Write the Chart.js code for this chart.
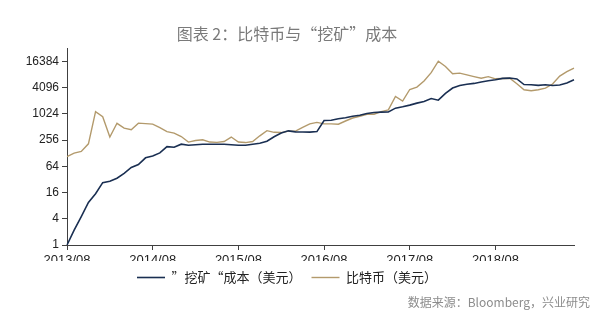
<!DOCTYPE html>
<html>
<head>
<meta charset="utf-8">
<script src="https://cdn.jsdelivr.net/npm/chart.js@4"></script>
<style>
  html, body { margin: 0; background: #fff; }
  #wrap { width: 600px; height: 320px; }
</style>
</head>
<body>
<div id="wrap"><canvas id="btcCostChart"></canvas></div>
<script>
// months 2013/08 .. 2019/07
const months = [];
for (let i = 0; i < 72; i++) {
  const y = 2013 + Math.floor((7 + i) / 12);
  const m = ((7 + i) % 12) + 1;
  months.push(y + "/" + String(m).padStart(2, "0"));
}

// "挖矿"成本（美元）
const miningCost = [
  1, 2.2, 4.5, 9.5, 15, 27, 29, 34, 44, 60, 70, 100,
  110, 130, 181, 175, 206, 195, 200, 205, 205, 205, 205, 200,
  195, 195, 205, 217, 240, 305, 370, 416, 395, 390, 388, 400,
  720, 730, 786, 830, 900, 950, 1040, 1100, 1120, 1130, 1380, 1480,
  1620, 1800, 1960, 2300, 2100, 3000, 3990, 4580, 4900, 5100, 5500, 5850,
  6200, 6650, 6760, 6450, 4800, 4750, 4600, 4750, 4580, 4700, 5200, 6200
];

// 比特币（美元）
const btcPrice = [
  107, 128, 140, 210, 1150, 880, 300, 620, 480, 440, 626, 610,
  594, 496, 400, 370, 308, 230, 250, 260, 230, 226, 237, 300,
  230, 224, 237, 320, 420, 385, 380, 410, 410, 500, 600, 650,
  600, 600, 590, 700, 820, 900, 1000, 1000, 1150, 1260, 2560, 2000,
  3700, 4200, 5800, 9000, 16500, 12500, 8500, 8800, 8000, 7300, 6700, 7300,
  6500, 6600, 6700, 5000, 3640, 3460, 3640, 3990, 4930, 7500, 9500, 11500
];

const yTicks = [1, 4, 16, 64, 256, 1024, 4096, 16384];

const sourceNote = {
  id: "sourceNote",
  afterDraw(chart) {
    const ctx = chart.ctx;
    ctx.save();
    ctx.font = '12px "Noto Sans CJK SC"';
    ctx.fillStyle = "#8c8c8c";
    ctx.textAlign = "right";
    ctx.textBaseline = "middle";
    ctx.fillText("数据来源：Bloomberg，兴业研究", 590, 302);
    ctx.restore();
  },
};

const ctx = document.getElementById("btcCostChart").getContext("2d");
const btcCostChart = new Chart(ctx, {
  type: "line",
  data: {
    labels: months,
    datasets: [
      {
        label: "”挖矿“成本（美元）",
        data: miningCost,
        borderColor: "#1a2f52",
        backgroundColor: "#1a2f52",
        borderWidth: 1.6,
        pointRadius: 0,
        tension: 0,
      },
      {
        label: "比特币（美元）",
        data: btcPrice,
        borderColor: "#b39a6c",
        backgroundColor: "#b39a6c",
        borderWidth: 1.4,
        pointRadius: 0,
        tension: 0,
      },
    ],
  },
  options: {
    responsive: true,
    maintainAspectRatio: false,
    animation: false,
    devicePixelRatio: 1,
    layout: { padding: { left: 0, right: 26, top: 0, bottom: 26 } },
    scales: {
      x: {
        type: "category",
        offset: false,
        grid: { drawOnChartArea: false, tickLength: 5, color: "#404040" },
        border: { display: true, color: "#404040", width: 1 },
        ticks: {
          autoSkip: false,
          maxRotation: 0,
          padding: 3,
          color: "#222",
          font: { family: "Liberation Sans", size: 13 },
        },
        afterBuildTicks: (scale) => {
          scale.ticks = scale.ticks.filter((t) => t.value % 12 === 0);
        },
        afterFit: (scale) => {
          scale.height = 16;
        },
      },
      y: {
        type: "logarithmic",
        min: 1,
        max: 32768,
        grid: { drawOnChartArea: false, tickLength: 5, color: "#404040" },
        border: { display: true, color: "#404040", width: 1 },
        ticks: {
          padding: 3,
          color: "#222",
          font: { family: "Liberation Sans", size: 12 },
          callback: (v) => String(v),
        },
        afterBuildTicks: (scale) => {
          scale.ticks = yTicks.map((v) => ({ value: v }));
        },
        afterFit: (scale) => {
          scale.width = 67;
        },
      },
    },
    plugins: {
      title: {
        display: true,
        text: "图表 2：比特币与“挖矿”成本",
        color: "#7a7a7a",
        font: { family: "Noto Sans CJK SC", size: 16, weight: "normal" },
        padding: { top: 24, bottom: 5 },
      },
      legend: {
        position: "bottom",
        labels: {
          usePointStyle: true,
          pointStyle: "line",
          pointStyleWidth: 28,
          boxHeight: 13,
          padding: 10,
          color: "#222",
          font: { family: "Noto Sans CJK SC", size: 13 },
        },
      },
      tooltip: { enabled: false },
    },
  },
  plugins: [sourceNote],
});
</script>
</body>
</html>
